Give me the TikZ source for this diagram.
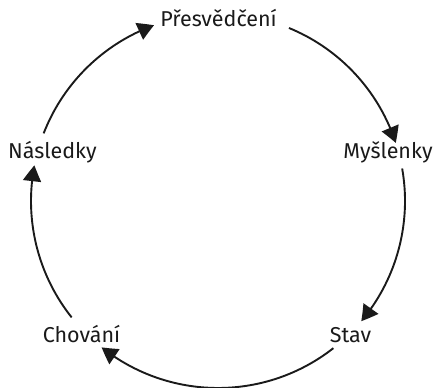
\documentclass[tikz,border=0pt]{standalone}
\usepackage{fontspec}
\setmainfont{Fira Sans}
\usetikzlibrary{arrows.meta,bending}
\definecolor{ink}{HTML}{1A1A1A}
\tikzset{
  lbl/.style={anchor=base, inner sep=0pt, text=ink, font=\fontsize{21.5}{24}\selectfont},
  cyc/.style={draw=ink, line width=1.9pt, -{Triangle[length=16pt,width=18pt,bend]}}
}
\begin{document}
\begin{tikzpicture}[x=1pt,y=1pt]
\useasboundingbox (0,0) rectangle (435,387);
\coordinate (C) at (218,186);
\def\R{187}
\node[lbl] (pre) at (218.5,360) {Přesvědčení};
\node[lbl] (mys) at (388,228) {Myšlenky};
\node[lbl] (sta) at (350.5,44) {Stav};
\node[lbl] (cho) at (81.5,44) {Chování};
\node[lbl] (nas) at (52.5,228) {Následky};
\draw[cyc] ([shift={(158.8:\R)}]C) arc[start angle=158.8, end angle=110, radius=\R];
\draw[cyc] ([shift={(67.7:\R)}]C) arc[start angle=67.7, end angle=18.1, radius=\R];
\draw[cyc] ([shift={(10:\R)}]C) arc[start angle=10, end angle=-40, radius=\R];
\draw[cyc] ([shift={(-51.9:\R)}]C) arc[start angle=-51.9, end angle=-128.5, radius=\R];
\draw[cyc] ([shift={(218.5:\R)}]C) arc[start angle=218.5, end angle=169, radius=\R];
\end{tikzpicture}
\end{document}
